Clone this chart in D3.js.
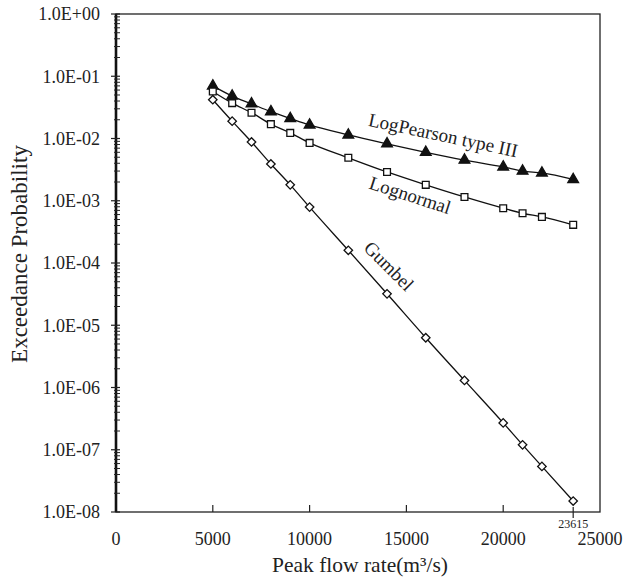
<!DOCTYPE html>
<html>
<head>
<meta charset="utf-8">
<script src="https://cdn.jsdelivr.net/npm/d3@7"></script>
<style>
  body { margin: 0; background: #fff; }
  text { font-family: "Liberation Serif", "DejaVu Serif", serif; fill: #222; }
</style>
</head>
<body>
<div id="chart"></div>
<script>
// peak flow rates (m3/s)
var flows = [5000, 6000, 7000, 8000, 9000, 10000, 12000, 14000, 16000, 18000, 20000, 21000, 22000, 23615];

// exceedance probabilities
var logPearson = [0.070, 0.048, 0.036, 0.027, 0.021, 0.0165, 0.0114, 0.0082, 0.0060, 0.0045, 0.0035, 0.0030, 0.0028, 0.0022];
var lognormal = [0.057, 0.037, 0.026, 0.017, 0.0123, 0.0085, 0.0049, 0.0029, 0.0018, 0.00115, 0.00076, 0.00063, 0.00055, 0.00041];
var gumbel = [0.042, 0.019, 0.0088, 0.0039, 0.0018, 0.00079, 0.00016, 3.2e-5, 6.3e-6, 1.3e-6, 2.7e-7, 1.2e-7, 5.4e-8, 1.5e-8];

var xTicks = [0, 5000, 10000, 15000, 20000, 25000];
var yTicks = [1, 1e-1, 1e-2, 1e-3, 1e-4, 1e-5, 1e-6, 1e-7, 1e-8];

var WIDTH = 626, HEIGHT = 583;
var margin = {top: 14, right: 26, bottom: 71, left: 116};

var svg = d3.select("#chart").append("svg")
  .attr("width", WIDTH)
  .attr("height", HEIGHT);

var x = d3.scaleLinear().domain([0, 25000]).range([margin.left, WIDTH - margin.right]);
var y = d3.scaleLog().domain([1e-8, 1]).range([HEIGHT - margin.bottom, margin.top]);

// frame
svg.append("rect")
  .attr("x", x(0)).attr("y", y(1))
  .attr("width", x(25000) - x(0))
  .attr("height", y(1e-8) - y(1))
  .attr("fill", "none").attr("stroke", "#222").attr("stroke-width", 1.3);

// left axis (thicker) with minor ticks
var yAxisG = svg.append("g");
yAxisG.append("line")
  .attr("x1", x(0)).attr("x2", x(0))
  .attr("y1", y(1)).attr("y2", y(1e-8))
  .attr("stroke", "#111").attr("stroke-width", 2.6);

var minors = [];
for (var e = -8; e < 0; e++) {
  for (var m = 2; m <= 9; m++) minors.push(m * Math.pow(10, e));
}
yAxisG.selectAll("line.minor").data(minors).join("line")
  .attr("class", "minor")
  .attr("x1", x(0) - 2).attr("x2", x(0) + 4)
  .attr("y1", d => y(d)).attr("y2", d => y(d))
  .attr("stroke", "#222").attr("stroke-width", 1);

yAxisG.selectAll("line.major").data(yTicks).join("line")
  .attr("class", "major")
  .attr("x1", x(0) - 5).attr("x2", x(0) + 4)
  .attr("y1", d => y(d)).attr("y2", d => y(d))
  .attr("stroke", "#222").attr("stroke-width", 1.2);

yAxisG.selectAll("text").data(yTicks).join("text")
  .attr("x", x(0) - 16)
  .attr("y", d => y(d))
  .attr("dy", "0.35em")
  .attr("text-anchor", "end")
  .style("font-size", "18px")
  .text(d => {
    var ex = Math.round(Math.log10(d));
    var s = Math.abs(ex) < 10 ? "0" + Math.abs(ex) : "" + Math.abs(ex);
    return "1.0E" + (ex >= 0 ? "+" : "-") + s;
  });

// bottom axis
var xAxisG = svg.append("g");
xAxisG.selectAll("line.tick").data(xTicks.slice(1, -1)).join("line")
  .attr("class", "tick")
  .attr("x1", d => x(d)).attr("x2", d => x(d))
  .attr("y1", y(1e-8)).attr("y2", y(1e-8) - 7)
  .attr("stroke", "#222").attr("stroke-width", 1.2);

xAxisG.selectAll("text.tl").data(xTicks).join("text")
  .attr("class", "tl")
  .attr("x", d => x(d))
  .attr("y", y(1e-8) + 33)
  .attr("text-anchor", "middle")
  .style("font-size", "18px")
  .text(d => d);

// marked tick at the largest flow
var lastFlow = flows[flows.length - 1];
xAxisG.append("line")
  .attr("x1", x(lastFlow)).attr("x2", x(lastFlow))
  .attr("y1", y(1e-8) - 5).attr("y2", y(1e-8) + 6)
  .attr("stroke", "#222").attr("stroke-width", 1.2);
xAxisG.append("text")
  .attr("x", x(lastFlow))
  .attr("y", y(1e-8) + 16)
  .attr("text-anchor", "middle")
  .style("font-size", "12px")
  .text(lastFlow);

// axis titles
svg.append("text")
  .attr("x", 360)
  .attr("y", HEIGHT - 11)
  .attr("text-anchor", "middle")
  .style("font-size", "21.5px")
  .text("Peak flow rate(m\u00b3/s)");

svg.append("text")
  .attr("transform", "translate(27,254) rotate(-90)")
  .attr("text-anchor", "middle")
  .style("font-size", "23px")
  .text("Exceedance Probability");

// series
var line = d3.line()
  .x(d => x(d[0]))
  .y(d => y(d[1]))
  .curve(d3.curveMonotoneX);

var series = [
  {name: "LogPearson type III", values: logPearson, symbol: d3.symbolTriangle, size: 50, fill: "#111", rot: 0},
  {name: "Lognormal", values: lognormal, symbol: d3.symbolSquare, size: 46, fill: "#fff", rot: 0},
  {name: "Gumbel", values: gumbel, symbol: d3.symbolSquare, size: 36, fill: "#fff", rot: 45}
];

series.forEach(s => {
  var pts = flows.map((f, i) => [f, s.values[i]]);
  svg.append("path")
    .datum(pts)
    .attr("d", line)
    .attr("fill", "none")
    .attr("stroke", "#111")
    .attr("stroke-width", 1.3);

  svg.append("g").selectAll("path").data(pts).join("path")
    .attr("transform", d => `translate(${x(d[0])},${y(d[1])}) rotate(${s.rot})`)
    .attr("d", d3.symbol().type(s.symbol).size(s.size))
    .attr("fill", s.fill)
    .attr("stroke", "#111")
    .attr("stroke-width", 1.3);
});

// curve labels
var labels = [
  {text: "LogPearson type III", at: [16900, 0.0114], angle: 12},
  {text: "Lognormal", at: [15200, 0.00124], angle: 18},
  {text: "Gumbel", at: [14100, 9e-5], angle: 45}
];
svg.selectAll("text.lbl").data(labels).join("text")
  .attr("class", "lbl")
  .attr("transform", d => `translate(${x(d.at[0])},${y(d.at[1])}) rotate(${d.angle})`)
  .attr("text-anchor", "middle")
  .attr("dy", "0.35em")
  .style("font-size", "19px")
  .text(d => d.text);
</script>
</body>
</html>
